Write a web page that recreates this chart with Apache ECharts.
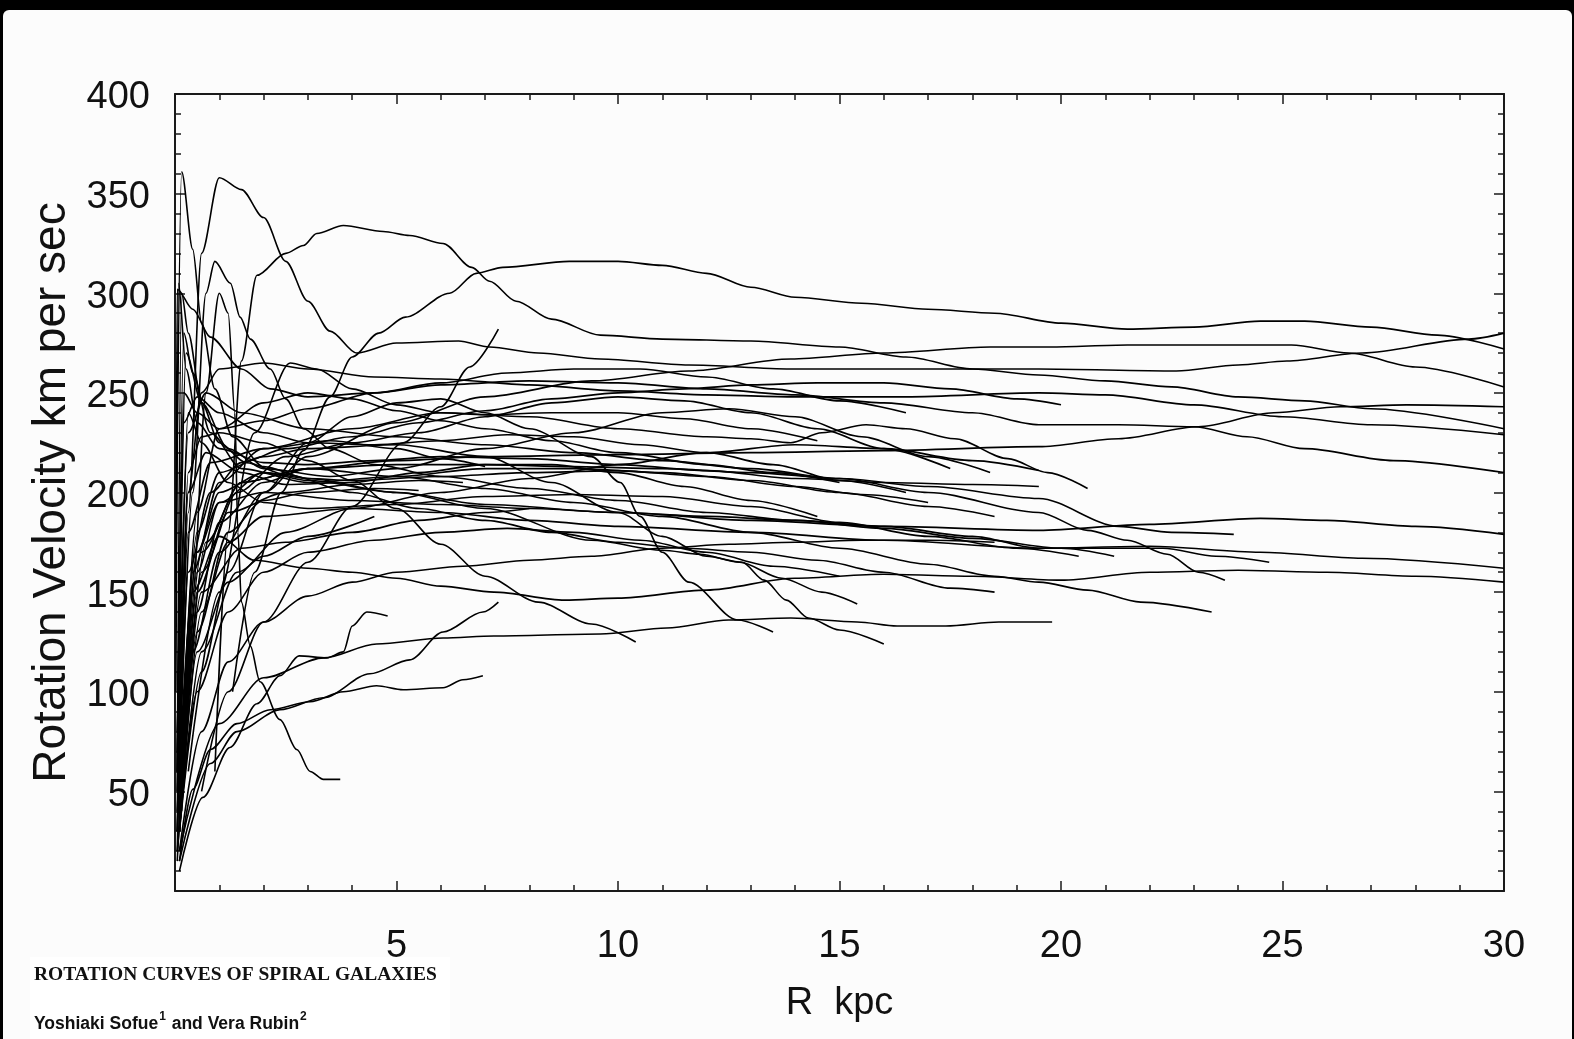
<!DOCTYPE html>
<html>
<head>
<meta charset="utf-8">
<script src="https://cdn.jsdelivr.net/npm/echarts@6/dist/echarts.min.js"></script>
<style>
html,body{margin:0;padding:0;background:#000;}
#chart{width:1574px;height:1039px;}
</style>
</head>
<body>
<div id="chart"></div>
<script>
// ---- axis ticks / labels ----
const xTicks = [0, 5, 10, 15, 20, 25, 30];
const yTicks = [0, 50, 100, 150, 200, 250, 300, 350, 400];
const xTitle = 'R  kpc';
const yTitle = 'Rotation Velocity km per sec';
const paperTitle = 'ROTATION CURVES OF SPIRAL GALAXIES';
const authorA = 'Yoshiaki Sofue';
const authorB = ' and Vera Rubin';

// ---- rotation curves: [R kpc, V km/s] ----
const g01 = [[0.05,20],[0.3,190],[0.6,320],[1.0,358],[1.5,352],[2.0,338],[2.5,316],[3.0,296],[3.5,281],[4.1,270],[5.0,275],[6.4,276],[7.1,273],[8.2,270],[9.6,267],[11.6,264],[13.9,262],[16,262],[19.5,262],[22.6,261],[24,264],[25.1,266],[26.8,270],[29.2,277],[30,280]];
const g02 = [[1.3,100],[1.8,160],[2.4,200],[2.9,221],[3.5,248],[4.0,268],[4.6,280],[5.2,288],[6.2,300],[6.8,310],[7.4,313],[8.9,316],[10,316],[11,314],[12,310],[13,303],[14,298],[15.5,295],[17,292],[18.5,290],[20,285],[21.5,282],[23,283],[24.5,286],[25.5,286],[27,283],[28.5,279],[30,272]];
const g03 = [[0.9,60],[1.2,180],[1.5,266],[1.85,309],[2.5,320],[2.9,324],[3.2,330],[3.8,334],[4.7,331],[5.3,329],[6.05,325],[6.7,313],[7.1,306],[7.7,296],[8.5,287],[9.6,279],[11,277],[13,276],[15,273],[16.5,268],[18,262],[19.5,259],[21,256],[22.5,253],[24,248],[25.5,246],[27,242],[30,232]];
const g04 = [[0.05,15],[0.4,120],[1,170],[2,200],[3,218],[5,235],[7,248],[9.4,256],[11.6,261],[13.9,267],[16,270],[18.4,273],[19.75,273],[21.5,274],[23.5,274],[25.2,274],[26.5,270],[28,263],[30,253]];
const g05 = [[0.05,30],[0.3,200],[0.6,250],[1,262],[2,265],[3,262],[4.5,258],[6,257],[8,254],[10,251],[12,249],[14,248],[16.5,248],[19.5,250],[21,249],[23,244],[25,238],[27,234],[30,229]];
const g06 = [[0.1,40],[0.5,140],[1,185],[2,205],[3,212],[5,216],[7,218],[10,219],[13,220],[16,221],[19.5,223],[21.3,227],[23.1,233],[24.8,240],[26.3,243],[27.8,244],[30,243]];
const g07 = [[0.05,60],[0.2,250],[0.5,240],[1,232],[2,236],[3,242],[4.5,250],[6,254],[8,256],[10,255],[12,252],[14,249],[16,245],[18,240],[19.5,234],[21.3,234],[23,233],[24.2,228],[25.5,222],[27.5,216],[30,210]];
const g08 = [[0.1,40],[0.5,160],[1,195],[2,210],[3,206],[5,200],[7,194],[10,190],[13,186],[16,183],[19.5,181],[22,184],[24.5,187],[26,186],[28,183],[30,179]];
const g09 = [[0.1,30],[0.6,140],[1.2,175],[2,188],[4,192],[6,190],[8,186],[10,183],[13,180],[16,176],[19.5,172],[22,173],[24.5,170],[26.8,167],[30,162]];
const g10 = [[0.05,40],[0.4,150],[1,178],[1.8,166],[3,162],[4,160],[5,157],[6,153],[7.2,150],[8.8,146],[10,147],[12,151],[14,157],[16,159],[18,158],[20,156],[22,160],[24,161],[26,160],[28,158],[30,155]];
const g11 = [[0.02,150],[0.15,361],[0.4,322],[0.6,285],[0.9,252],[1.3,228],[2,213],[3,207],[4,206],[6,208],[8,210],[10,211],[12,208],[14,203],[15.5,199],[17,195]];
const g12 = [[0.1,60],[0.4,200],[0.7,300],[0.9,316],[1.25,305],[1.47,288],[1.7,277],[2.15,262],[2.5,247],[2.9,232],[3.5,222],[4.5,214],[6,208],[8,202],[10,196],[12,190],[14,186],[16,182],[18,177],[20,172],[21.2,168]];
const g13 = [[0.15,40],[0.4,150],[0.7,250],[1.0,300],[1.2,290],[1.35,240],[1.42,180],[1.5,145],[1.7,123],[1.92,105],[2.37,86],[2.75,71],[3.05,60],[3.35,56],[3.73,56]];
const g14 = [[0.02,100],[0.08,305],[0.25,262],[0.5,235],[1,222],[2,215],[3,214],[4.5,216],[6,218],[8,217],[10,214],[12,211],[14,207],[16,205],[18,204],[19.5,203]];
const g15 = [[0.05,30],[0.3,180],[0.8,215],[2,222],[4,232],[6,240],[8,238],[10,232],[12,228],[13,227],[13.9,225],[14.6,230],[15.6,234],[16.5,232],[17.6,227],[18.8,217],[19.7,210],[20.6,202]];
const g16 = [[0.1,50],[0.6,170],[1.5,205],[3,212],[5,208],[7,202],[9,195],[11,188],[13,180],[15,172],[17,164],[18.5,158],[19.5,155],[20.6,151],[21.8,145],[23.4,140]];
const g17 = [[0.05,80],[0.3,230],[0.7,250],[1.5,240],[3,232],[5,228],[7,224],[9,220],[11,216],[13,212],[15,207],[17,200],[19.5,190],[20.6,181],[21.5,176],[22.4,169],[23.1,160],[23.7,156]];
const g18 = [[0.1,50],[0.5,170],[1,195],[2,200],[4,196],[6,194],[8,192],[10,190],[12,188],[14,186],[16,183],[18,178],[19.5,172],[21,172],[22.3,172],[23.5,168],[24.7,165]];
const g19 = [[0.1,40],[0.7,175],[1.5,205],[3,212],[5,214],[7,214],[9,213],[11,212],[13,210],[15,207],[17,203],[19.5,197],[21.3,183],[22.5,180],[23.9,179]];
const g20 = [[0.1,60],[0.3,210],[0.6,228],[1,230],[2,225],[3,216],[4,206],[5,192],[6,174],[7,158],[8.2,145],[9.4,134],[10.4,125]];
const g21 = [[0.1,30],[0.6,110],[1.2,160],[2,200],[3,225],[4,238],[5,245],[6,247],[7,240],[8,232],[9.4,218],[10.05,205],[10.5,188],[11,170],[11.6,155],[12.7,136],[13.5,130]];
const g22 = [[0.1,40],[0.5,170],[1,200],[2,210],[3,207],[5,200],[7,192],[9.4,176],[11,171],[11.85,169],[12.75,165],[13.7,157],[14.6,150],[15.4,144]];
const g23 = [[0.1,50],[0.5,180],[1,210],[2,218],[3,222],[5,224],[7,218],[8.5,205],[10,190],[11,178],[12,168],[12.8,165],[13.3,156],[13.8,146],[14.3,137],[15,131],[16,124]];
const g24 = [[0.1,20],[1,84],[2,107],[3.35,117],[4.55,124],[6.05,127],[7.2,128],[9.6,129],[11.1,132],[12.5,136],[13.9,137],[15.4,135],[16.3,133],[17.4,133],[18.6,135],[19.8,135]];
const g25 = [[0.1,15],[0.4,51],[0.8,71],[1.4,84],[2.15,91],[3.05,95],[3.8,100],[4.55,103],[5.15,101],[6.05,102],[6.5,106],[6.95,108]];
const g26 = [[0.1,15],[0.8,64],[1.4,80],[2.37,91],[3.35,97],[4.4,109],[5.3,116],[6.05,130],[6.95,140],[7.3,145]];
const g27 = [[0.1,10],[0.63,47],[1.24,72],[1.85,94],[2.37,108],[2.8,118],[3.43,117],[3.8,120],[4.0,133],[4.33,140],[4.8,138]];
const g28 = [[0.6,50],[1.2,100],[2,135],[3,165],[4,193],[5.15,225],[6.0,243],[6.65,263],[7.3,282]];
const g29 = [[0.05,50],[0.2,280],[0.4,260],[0.8,230],[1.5,212],[3,205],[5,208],[7,212],[9,212],[11,210],[13,206],[15,200],[17,193],[18.5,188]];
const g30 = [[0.1,30],[0.5,150],[1.2,190],[2.5,200],[4,204],[5.5,206],[6.5,205]];
const g31 = [[0.05,40],[0.3,240],[0.6,225],[1.2,205],[2,195],[3,192],[5,194],[7,198],[9,199],[11,198],[13,193],[15,185],[17,178],[19,172],[20.4,168]];
const g32 = [[0.1,30],[0.6,120],[1.4,160],[2.5,180],[4,192],[6,200],[8,207],[10,214],[12,220],[14,224],[16,222],[18,216],[19.5,211]];
const g33 = [[0.05,60],[0.25,270],[0.6,245],[1.2,222],[2,212],[3.5,208],[5,212],[7,222],[9,230],[11,240],[12.5,242],[14,238],[15.5,228],[17,218],[18.4,210]];
const g34 = [[0.1,30],[0.5,130],[1.2,180],[2,196],[3,200],[4.5,202],[5.5,201]];
const g35 = [[0.05,70],[0.2,235],[0.5,248],[1,240],[2,230],[3,225],[4.5,224],[6,226],[7.5,229],[9,228],[10.5,224],[12,220],[13.5,214],[15,206],[16.5,200]];
const g36 = [[0.1,40],[0.6,150],[1.5,172],[2.5,175],[4,180],[5.5,186],[7,190],[8,192]];
const g37 = [[0.05,50],[0.3,200],[0.7,220],[1.5,210],[2.5,204],[4,205],[5.5,210],[7,214],[8.5,214],[10,210],[11.5,203],[13,196],[14.5,188]];
const g38 = [[0.1,30],[0.5,120],[1.2,155],[2,168],[3,178],[4.5,188]];
const g39 = [[0.02,150],[0.05,302],[0.4,292],[0.8,278],[1.5,262],[2.15,252],[3,248],[4.5,250],[6,255],[7.5,260],[9,262],[10.5,262],[12,258],[13.5,252],[15,246],[16.5,240]];
const g40 = [[0.1,40],[0.6,160],[1.4,200],[2.5,218],[4,225],[5.5,230],[7,238],[8.5,245],[10,248],[11.5,246],[13,240],[14.5,232],[16,222],[17.5,212]];
const g41 = [[0.05,20],[0.5,100],[1.2,140],[2,160],[3,170],[4.5,176],[6,180],[7.5,182],[9,180],[10.5,176],[12,170],[13.5,163],[15,158]];
const g42 = [[0.3,60],[1,150],[1.8,230],[2.6,265],[3.2,262],[4,252],[5,244],[6,240],[7,239],[8.5,240],[10,240],[11.5,237],[13,232],[14.5,226]];
const g43 = [[0.1,40],[0.5,190],[1,232],[2,245],[3,250],[4,247],[5,241],[6,236],[7,232],[8.5,226],[10,220],[12,214],[13.5,210],[15,205]];
const g44 = [[0.05,30],[0.3,160],[0.8,200],[1.5,215],[2.5,222],[4,228],[5.5,235],[7,241],[8.5,247],[10,250],[11.5,252],[13,254],[14.5,255],[16,255],[17.5,252],[19,247],[20,244]];
const g45 = [[0.05,60],[0.15,300],[0.3,280],[0.6,245],[1,225],[1.6,215],[2.5,209],[4,200],[5.5,192],[7,186],[8.5,180],[10,175],[11.5,172],[13,170],[14.5,166],[16,160],[17.5,152],[18.5,150]];
const g46 = [[0.1,30],[0.4,160],[1,205],[2,222],[3.5,226],[5,222],[6,217],[7,213]];
const g47 = [[0.1,20],[0.6,80],[1.2,115],[2,135],[3,148],[4,155],[5,160],[6.5,163],[8,166],[9.4,168],[11,172],[12.5,174],[14,175],[15.5,176],[17,176],[18.5,175]];

const curves = [g01,g02,g03,g04,g05,g06,g07,g08,g09,g10,g11,g12,g13,g14,g15,g16,g17,g18,g19,g20,
  g21,g22,g23,g24,g25,g26,g27,g28,g29,g30,g31,g32,g33,g34,g35,g36,g37,g38,g39,g40,g41,g42,g43,g44,g45,g46,g47];

const FONT = '"Liberation Sans", Arial, sans-serif';
const hideZero = v => (v === 0 ? '' : String(v));

function xAx(pos, showLabel) {
  return {
    type: 'value', position: pos, min: xTicks[0], max: xTicks[xTicks.length - 1], interval: 5,
    axisLine: { show: true, onZero: false, lineStyle: { color: '#1a1a1a', width: 2 } },
    axisTick: { show: true, inside: true, length: 10, lineStyle: { color: '#1a1a1a', width: 1.5 } },
    minorTick: { show: true, splitNumber: 5, length: 6, lineStyle: { color: '#1a1a1a', width: 1.5 } },
    splitLine: { show: false }, minorSplitLine: { show: false },
    axisLabel: { show: showLabel, formatter: hideZero, fontSize: 38, fontFamily: FONT, color: '#111', margin: 37 },
    name: showLabel ? xTitle : '', nameLocation: 'middle', nameGap: 94,
    nameTextStyle: { fontSize: 38, fontFamily: FONT, color: '#111' }
  };
}
function yAx(pos, showLabel) {
  return {
    type: 'value', position: pos, min: yTicks[0], max: yTicks[yTicks.length - 1], interval: 50,
    axisLine: { show: true, onZero: false, lineStyle: { color: '#1a1a1a', width: 2 } },
    axisTick: { show: true, inside: true, length: 10, lineStyle: { color: '#1a1a1a', width: 1.5 } },
    minorTick: { show: true, splitNumber: 5, length: 6, lineStyle: { color: '#1a1a1a', width: 1.5 } },
    splitLine: { show: false }, minorSplitLine: { show: false },
    axisLabel: { show: showLabel, formatter: hideZero, fontSize: 38, fontFamily: FONT, color: '#111', margin: 25,
      verticalAlign: 'top', lineHeight: 8 },
    name: showLabel ? yTitle : '', nameLocation: 'middle', nameGap: 100, nameRotate: 90,
    nameTextStyle: { fontSize: 46, fontFamily: FONT, color: '#111' }
  };
}

const chart = echarts.init(document.getElementById('chart'), null, { renderer: 'canvas' });
chart.setOption({
  backgroundColor: '#000',
  animation: false,
  grid: { left: 175, right: 70, top: 94, bottom: 148, containLabel: false },
  xAxis: [xAx('bottom', true), xAx('top', false)],
  yAxis: [yAx('left', true), yAx('right', false)],
  graphic: [
    { type: 'rect', z: -10, silent: true, shape: { x: 3, y: 10, width: 1569, height: 1040, r: 6 }, style: { fill: '#fcfcfc' } },
    { type: 'rect', z: -9, silent: true, shape: { x: 30, y: 957, width: 420, height: 82 }, style: { fill: '#ffffff' } },
    { type: 'text', silent: true, left: 34, top: 965,
      style: { text: paperTitle, font: 'bold 19.5px "Liberation Serif", "Times New Roman", serif', fill: '#111' } },
    { type: 'text', silent: true, left: 34, top: 1011,
      style: {
        text: '{a|' + authorA + '}{s|1}{a|' + authorB + '}{s|2}',
        fill: '#111',
        rich: {
          a: { font: 'bold 17.5px "Liberation Sans", Arial, sans-serif', fill: '#111', lineHeight: 22, verticalAlign: 'bottom' },
          s: { font: 'bold 12px "Liberation Sans", Arial, sans-serif', fill: '#111', lineHeight: 22, verticalAlign: 'top', padding: [0, 1, 8, 1] }
        }
      } }
  ],
  series: curves.map((c, i) => ({
    type: 'line', name: 'g' + (i + 1), data: c, xAxisIndex: 0, yAxisIndex: 0,
    showSymbol: false, symbol: 'none', smooth: 0.3, smoothMonotone: 'x', clip: true, silent: true,
    lineStyle: { color: '#000', width: 1.6 }
  }))
});
</script>
</body>
</html>
